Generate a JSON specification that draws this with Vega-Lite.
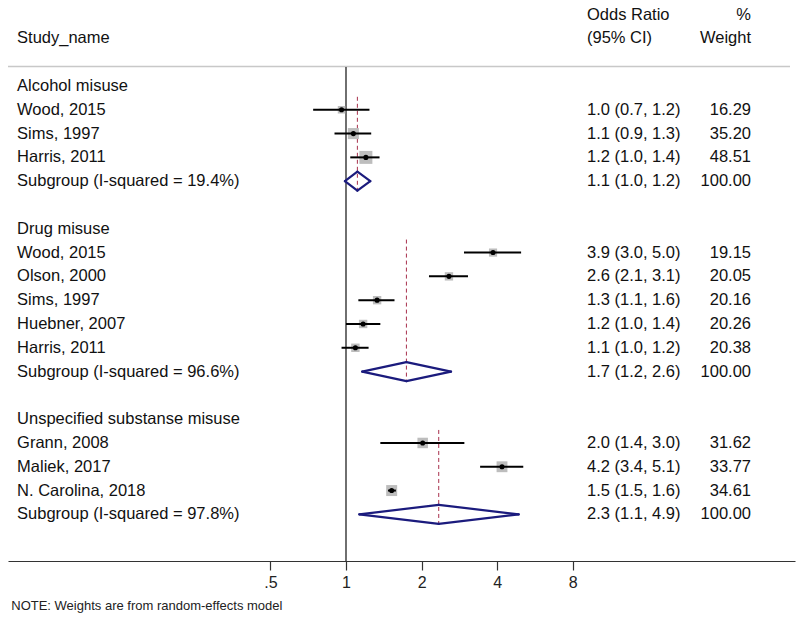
{
  "$schema": "https://vega.github.io/schema/vega-lite/v6.json",
  "width": 787,
  "height": 561,
  "autosize": {"type": "none"},
  "padding": {"left": 8, "top": 0, "right": 5, "bottom": 65},
  "background": "white",
  "config": {
    "view": {"stroke": null},
    "axis": {"grid": false},
    "text": {"font": "Liberation Sans", "fontSize": 16.5, "color": "#111111"}
  },
  "title": {
    "text": "NOTE: Weights are from random-effects model",
    "orient": "bottom",
    "anchor": "start",
    "font": "Liberation Sans",
    "fontSize": 13,
    "fontWeight": "normal",
    "color": "#222222",
    "offset": 10,
    "dx": 4
  },
  "datasets": {
    "rows": [
      {"row": -3, "label": "", "ci": "Odds Ratio", "wt": "%", "kind": "head"},
      {"row": -2, "label": "Study_name", "ci": "(95% CI)", "wt": "Weight", "kind": "head"},
      {"row": 0, "label": "Alcohol misuse", "kind": "group"},
      {"row": 1, "label": "Wood, 2015", "kind": "study", "est": 0.96, "lo": 0.74, "hi": 1.24, "weight": 16.29, "ci": "1.0 (0.7, 1.2)", "wt": "16.29"},
      {"row": 2, "label": "Sims, 1997", "kind": "study", "est": 1.07, "lo": 0.90, "hi": 1.26, "weight": 35.20, "ci": "1.1 (0.9, 1.3)", "wt": "35.20"},
      {"row": 3, "label": "Harris, 2011", "kind": "study", "est": 1.20, "lo": 1.04, "hi": 1.36, "weight": 48.51, "ci": "1.2 (1.0, 1.4)", "wt": "48.51"},
      {"row": 4, "label": "Subgroup (I-squared = 19.4%)", "kind": "sub", "first": 1, "est": 1.11, "lo": 0.99, "hi": 1.25, "ci": "1.1 (1.0, 1.2)", "wt": "100.00"},
      {"row": 6, "label": "Drug misuse", "kind": "group"},
      {"row": 7, "label": "Wood, 2015", "kind": "study", "est": 3.85, "lo": 2.95, "hi": 4.98, "weight": 19.15, "ci": "3.9 (3.0, 5.0)", "wt": "19.15"},
      {"row": 8, "label": "Olson, 2000", "kind": "study", "est": 2.57, "lo": 2.14, "hi": 3.06, "weight": 20.05, "ci": "2.6 (2.1, 3.1)", "wt": "20.05"},
      {"row": 9, "label": "Sims, 1997", "kind": "study", "est": 1.33, "lo": 1.12, "hi": 1.56, "weight": 20.16, "ci": "1.3 (1.1, 1.6)", "wt": "20.16"},
      {"row": 10, "label": "Huebner, 2007", "kind": "study", "est": 1.17, "lo": 1.00, "hi": 1.37, "weight": 20.26, "ci": "1.2 (1.0, 1.4)", "wt": "20.26"},
      {"row": 11, "label": "Harris, 2011", "kind": "study", "est": 1.09, "lo": 0.96, "hi": 1.23, "weight": 20.38, "ci": "1.1 (1.0, 1.2)", "wt": "20.38"},
      {"row": 12, "label": "Subgroup (I-squared = 96.6%)", "kind": "sub", "first": 7, "est": 1.74, "lo": 1.16, "hi": 2.62, "ci": "1.7 (1.2, 2.6)", "wt": "100.00"},
      {"row": 14, "label": "Unspecified substanse misuse", "kind": "group"},
      {"row": 15, "label": "Grann, 2008", "kind": "study", "est": 2.02, "lo": 1.37, "hi": 2.96, "weight": 31.62, "ci": "2.0 (1.4, 3.0)", "wt": "31.62"},
      {"row": 16, "label": "Maliek, 2017", "kind": "study", "est": 4.18, "lo": 3.42, "hi": 5.08, "weight": 33.77, "ci": "4.2 (3.4, 5.1)", "wt": "33.77"},
      {"row": 17, "label": "N. Carolina, 2018", "kind": "study", "est": 1.52, "lo": 1.47, "hi": 1.58, "weight": 34.61, "ci": "1.5 (1.5, 1.6)", "wt": "34.61"},
      {"row": 18, "label": "Subgroup (I-squared = 97.8%)", "kind": "sub", "first": 15, "est": 2.34, "lo": 1.13, "hi": 4.87, "ci": "2.3 (1.1, 4.9)", "wt": "100.00"}
    ]
  },
  "data": {"name": "rows"},
  "layer": [
    {
      "data": {"values": [{"k": 1}]},
      "mark": {"type": "rule", "color": "#c8c8c8", "strokeWidth": 1.5},
      "encoding": {
        "x": {"datum": 0.0451, "type": "quantitative", "title": null, "scale": {"type": "log", "domain": [0.0451, 61.35], "nice": false, "zero": false},
          "axis": {"values": [0.5, 1, 2, 4, 8], "labelExpr": "datum.value == 0.5 ? '.5' : datum.label", "tickSize": 9, "tickColor": "#333333", "tickWidth": 1.2, "domainColor": "#333333", "domainWidth": 1.2, "labelFont": "Liberation Sans", "labelFontSize": 16, "labelColor": "#222222", "labelPadding": 4, "title": null, "grid": false}},
        "x2": {"datum": 58.6},
        "y": {"datum": -0.82, "type": "quantitative", "scale": {"domain": [-3.613, 19.96], "reverse": true, "nice": false, "zero": false}, "axis": null}
      }
    },
    {
      "data": {"values": [{"k": 1}]},
      "mark": {"type": "rule", "color": "#404040", "strokeWidth": 1.5},
      "encoding": {
        "x": {"datum": 1, "type": "quantitative", "title": null, "scale": {"type": "log", "domain": [0.0451, 61.35], "nice": false, "zero": false}},
        "y": {"datum": -0.8, "type": "quantitative", "scale": {"domain": [-3.613, 19.96], "reverse": true, "nice": false, "zero": false}, "axis": null},
        "y2": {"datum": 19.96}
      }
    },
    {
      "transform": [{"filter": "datum.kind == 'sub'"}],
      "mark": {"type": "rule", "color": "#a8304c", "strokeWidth": 1, "strokeDash": [4, 3], "yOffset": -13, "y2Offset": 9.5},
      "encoding": {
        "x": {"field": "est", "type": "quantitative", "title": null, "scale": {"type": "log", "domain": [0.0451, 61.35], "nice": false, "zero": false}},
        "y": {"field": "first", "type": "quantitative", "scale": {"domain": [-3.613, 19.96], "reverse": true, "nice": false, "zero": false}, "axis": null},
        "y2": {"field": "row"}
      }
    },
    {
      "transform": [{"filter": "datum.kind == 'study'"}],
      "mark": {"type": "square", "filled": true, "color": "#bdbdbd", "opacity": 1},
      "encoding": {
        "x": {"field": "est", "type": "quantitative", "title": null, "scale": {"type": "log", "domain": [0.0451, 61.35], "nice": false, "zero": false}},
        "y": {"field": "row", "type": "quantitative", "scale": {"domain": [-3.613, 19.96], "reverse": true, "nice": false, "zero": false}, "axis": null},
        "size": {"field": "weight", "type": "quantitative", "scale": {"type": "linear", "domain": [0, 50], "range": [0, 174], "zero": true}, "legend": null}
      }
    },
    {
      "transform": [{"filter": "datum.kind == 'study'"}],
      "mark": {"type": "rule", "color": "#000000", "strokeWidth": 2},
      "encoding": {
        "x": {"field": "lo", "type": "quantitative", "title": null, "scale": {"type": "log", "domain": [0.0451, 61.35], "nice": false, "zero": false}},
        "x2": {"field": "hi"},
        "y": {"field": "row", "type": "quantitative", "scale": {"domain": [-3.613, 19.96], "reverse": true, "nice": false, "zero": false}, "axis": null}
      }
    },
    {
      "transform": [{"filter": "datum.kind == 'study'"}],
      "mark": {"type": "circle", "color": "#000000", "size": 26, "opacity": 1},
      "encoding": {
        "x": {"field": "est", "type": "quantitative", "title": null, "scale": {"type": "log", "domain": [0.0451, 61.35], "nice": false, "zero": false}},
        "y": {"field": "row", "type": "quantitative", "scale": {"domain": [-3.613, 19.96], "reverse": true, "nice": false, "zero": false}, "axis": null}
      }
    },
    {
      "transform": [{"filter": "datum.kind == 'sub'"}],
      "mark": {"type": "rule", "color": "#1b1b7d", "strokeWidth": 2.2, "y2Offset": -9.5, "strokeCap": "round"},
      "encoding": {
        "x": {"field": "lo", "type": "quantitative", "title": null, "scale": {"type": "log", "domain": [0.0451, 61.35], "nice": false, "zero": false}},
        "x2": {"field": "est"},
        "y": {"field": "row", "type": "quantitative", "scale": {"domain": [-3.613, 19.96], "reverse": true, "nice": false, "zero": false}, "axis": null},
        "y2": {"field": "row"}
      }
    },
    {
      "transform": [{"filter": "datum.kind == 'sub'"}],
      "mark": {"type": "rule", "color": "#1b1b7d", "strokeWidth": 2.2, "y2Offset": 9.5, "strokeCap": "round"},
      "encoding": {
        "x": {"field": "lo", "type": "quantitative", "title": null, "scale": {"type": "log", "domain": [0.0451, 61.35], "nice": false, "zero": false}},
        "x2": {"field": "est"},
        "y": {"field": "row", "type": "quantitative", "scale": {"domain": [-3.613, 19.96], "reverse": true, "nice": false, "zero": false}, "axis": null},
        "y2": {"field": "row"}
      }
    },
    {
      "transform": [{"filter": "datum.kind == 'sub'"}],
      "mark": {"type": "rule", "color": "#1b1b7d", "strokeWidth": 2.2, "yOffset": -9.5, "strokeCap": "round"},
      "encoding": {
        "x": {"field": "est", "type": "quantitative", "title": null, "scale": {"type": "log", "domain": [0.0451, 61.35], "nice": false, "zero": false}},
        "x2": {"field": "hi"},
        "y": {"field": "row", "type": "quantitative", "scale": {"domain": [-3.613, 19.96], "reverse": true, "nice": false, "zero": false}, "axis": null},
        "y2": {"field": "row"}
      }
    },
    {
      "transform": [{"filter": "datum.kind == 'sub'"}],
      "mark": {"type": "rule", "color": "#1b1b7d", "strokeWidth": 2.2, "yOffset": 9.5, "strokeCap": "round"},
      "encoding": {
        "x": {"field": "est", "type": "quantitative", "title": null, "scale": {"type": "log", "domain": [0.0451, 61.35], "nice": false, "zero": false}},
        "x2": {"field": "hi"},
        "y": {"field": "row", "type": "quantitative", "scale": {"domain": [-3.613, 19.96], "reverse": true, "nice": false, "zero": false}, "axis": null},
        "y2": {"field": "row"}
      }
    },
    {
      "mark": {"type": "text", "align": "left", "baseline": "middle"},
      "encoding": {
        "x": {"datum": 0.049, "type": "quantitative", "title": null, "scale": {"type": "log", "domain": [0.0451, 61.35], "nice": false, "zero": false}},
        "y": {"field": "row", "type": "quantitative", "scale": {"domain": [-3.613, 19.96], "reverse": true, "nice": false, "zero": false}, "axis": null},
        "text": {"field": "label"}
      }
    },
    {
      "transform": [{"filter": "isValid(datum.ci)"}],
      "mark": {"type": "text", "align": "left", "baseline": "middle"},
      "encoding": {
        "x": {"datum": 9.11, "type": "quantitative", "title": null, "scale": {"type": "log", "domain": [0.0451, 61.35], "nice": false, "zero": false}},
        "y": {"field": "row", "type": "quantitative", "scale": {"domain": [-3.613, 19.96], "reverse": true, "nice": false, "zero": false}, "axis": null},
        "text": {"field": "ci"}
      }
    },
    {
      "transform": [{"filter": "isValid(datum.wt)"}],
      "mark": {"type": "text", "align": "right", "baseline": "middle"},
      "encoding": {
        "x": {"datum": 41, "type": "quantitative", "title": null, "scale": {"type": "log", "domain": [0.0451, 61.35], "nice": false, "zero": false}},
        "y": {"field": "row", "type": "quantitative", "scale": {"domain": [-3.613, 19.96], "reverse": true, "nice": false, "zero": false}, "axis": null},
        "text": {"field": "wt"}
      }
    }
  ]
}
